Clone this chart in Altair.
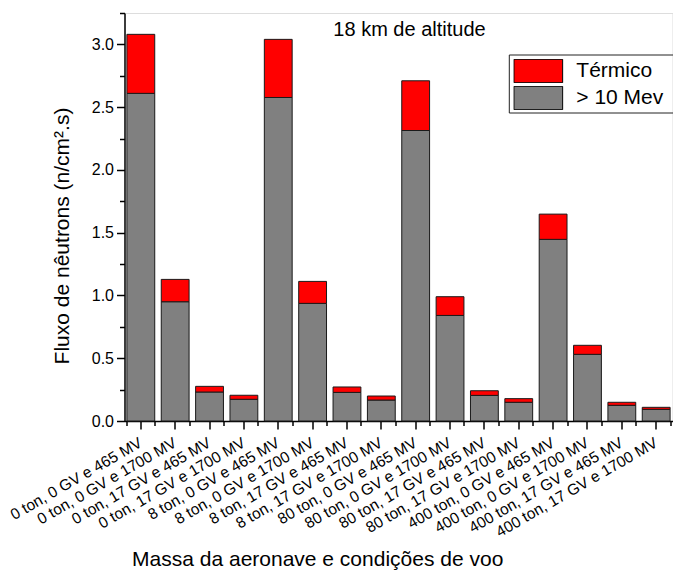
import altair as alt
import pandas as pd

categories = [
    "0 ton, 0 GV e 465 MV", "0 ton, 0 GV e 1700 MV",
    "0 ton, 17 GV e 465 MV", "0 ton, 17 GV e 1700 MV",
    "8 ton, 0 GV e 465 MV", "8 ton, 0 GV e 1700 MV",
    "8 ton, 17 GV e 465 MV", "8 ton, 17 GV e 1700 MV",
    "80 ton, 0 GV e 465 MV", "80 ton, 0 GV e 1700 MV",
    "80 ton, 17 GV e 465 MV", "80 ton, 17 GV e 1700 MV",
    "400 ton, 0 GV e 465 MV", "400 ton, 0 GV e 1700 MV",
    "400 ton, 17 GV e 465 MV", "400 ton, 17 GV e 1700 MV",
]
fast = [2.61, 0.95, 0.231, 0.173, 2.577, 0.937, 0.228, 0.167,
        2.314, 0.841, 0.204, 0.149, 1.447, 0.531, 0.125, 0.093]
thermal = [0.47, 0.178, 0.045, 0.032, 0.463, 0.175, 0.043, 0.032,
           0.396, 0.149, 0.037, 0.029, 0.201, 0.072, 0.024, 0.016]
series = ["Térmico", "> 10 Mev"]
colors = ["#ff0000", "#808080"]
y_major = [0.0, 0.5, 1.0, 1.5, 2.0, 2.5, 3.0]
y_minor = [0.25, 0.75, 1.25, 1.75, 2.25, 2.75, 3.25]

rows = []
for i, c in enumerate(categories):
    rows.append({"cond": c, "serie": "> 10 Mev", "valor": fast[i], "ordem": 0})
    rows.append({"cond": c, "serie": "Térmico", "valor": thermal[i], "ordem": 1})
df = pd.DataFrame(rows)

FONT = "Liberation Sans"
x_scale = alt.Scale(paddingInner=0.19, paddingOuter=0.07)
y_scale = alt.Scale(domain=[0, 3.25], nice=False, zero=True)

bars = alt.Chart(df).mark_bar(stroke="#1a1a1a", strokeWidth=1, opacity=1).encode(
    x=alt.X("cond:N", sort=categories, scale=x_scale, axis=alt.Axis(
        orient="bottom",
        title="Massa da aeronave e condições de voo",
        labelAngle=-30, labelAlign="right", labelBaseline="middle", labelPadding=12,
        labelFontSize=15.5, labelFont=FONT, labelColor="black", labelLimit=300,
        tickSize=8, tickWidth=1.5, tickColor="black",
        domainWidth=1.5, domainColor="black",
        titleFont=FONT, titleFontSize=21, titleFontWeight="normal", titleColor="black",
        titleX=192.7, titleY=144.5, titleAlign="center", titleBaseline="alphabetic",
    )),
    y=alt.Y("valor:Q", stack="zero", scale=y_scale, axis=alt.Axis(
        orient="left",
        title="Fluxo de nêutrons (n/cm².s)",
        values=y_major, format=".1f",
        labelFontSize=16, labelFont=FONT, labelColor="black", labelPadding=3,
        tickSize=8, tickWidth=1.5, tickColor="black",
        domainWidth=1.5, domainColor="black", grid=False,
        titleFont=FONT, titleFontSize=21, titleFontWeight="normal", titleColor="black",
        titleX=-62, titleY=222.5, titleAlign="center", titleBaseline="middle", titleAngle=270,
    )),
    color=alt.Color("serie:N", scale=alt.Scale(domain=series, range=colors), legend=alt.Legend(
        title=None, orient="none", legendX=384.8, legendY=42,
        symbolType="M-1,-0.48H1V0.48H-1Z", symbolSize=2372, clipHeight=24,
        rowPadding=3, padding=4, labelOffset=13,
        labelFontSize=21, labelFont=FONT, labelColor="black",
        symbolStrokeColor="black", symbolStrokeWidth=1, symbolOpacity=1,
    )),
    order=alt.Order("ordem:Q", sort="ascending"),
)

minor = alt.Chart(df).mark_bar(opacity=0).encode(
    x=alt.X("cond:N", sort=categories, scale=x_scale, axis=alt.Axis(
        orient="bottom", title=None, labels=False, domain=False,
        tickBand="extent", tickSize=4.5, tickWidth=1.5, tickColor="black",
    )),
    y=alt.Y("valor:Q", stack="zero", scale=y_scale, axis=alt.Axis(
        orient="left", title=None, labels=False, domain=False, grid=False,
        values=y_minor, tickSize=5, tickWidth=1.5, tickColor="black",
    )),
)

# legend frame (extends past the right edge, as in the original figure)
legend_frame = alt.Chart(pd.DataFrame({"k": [0]})).mark_rect(
    fill="white", fillOpacity=0, stroke="#222222", strokeWidth=1
).encode(
    x=alt.value(384.8), x2=alt.value(570), y=alt.value(42), y2=alt.value(100)
)

chart = alt.layer(bars, minor, legend_frame).resolve_axis(x="independent", y="independent").properties(
    width=548, height=408,
    autosize=alt.AutoSizeParams(type="none"),
    padding={"left": 124.5, "top": 13, "right": 0.5, "bottom": 149},
    title=alt.Title("18 km de altitude", fontSize=20, font=FONT, fontWeight="normal",
                    color="black", anchor="middle", dx=11, offset=-44, baseline="alphabetic"),
).configure_view(stroke=None).configure(background="white")

chart.save("out.html", embed_options={"renderer": "svg", "actions": False})
